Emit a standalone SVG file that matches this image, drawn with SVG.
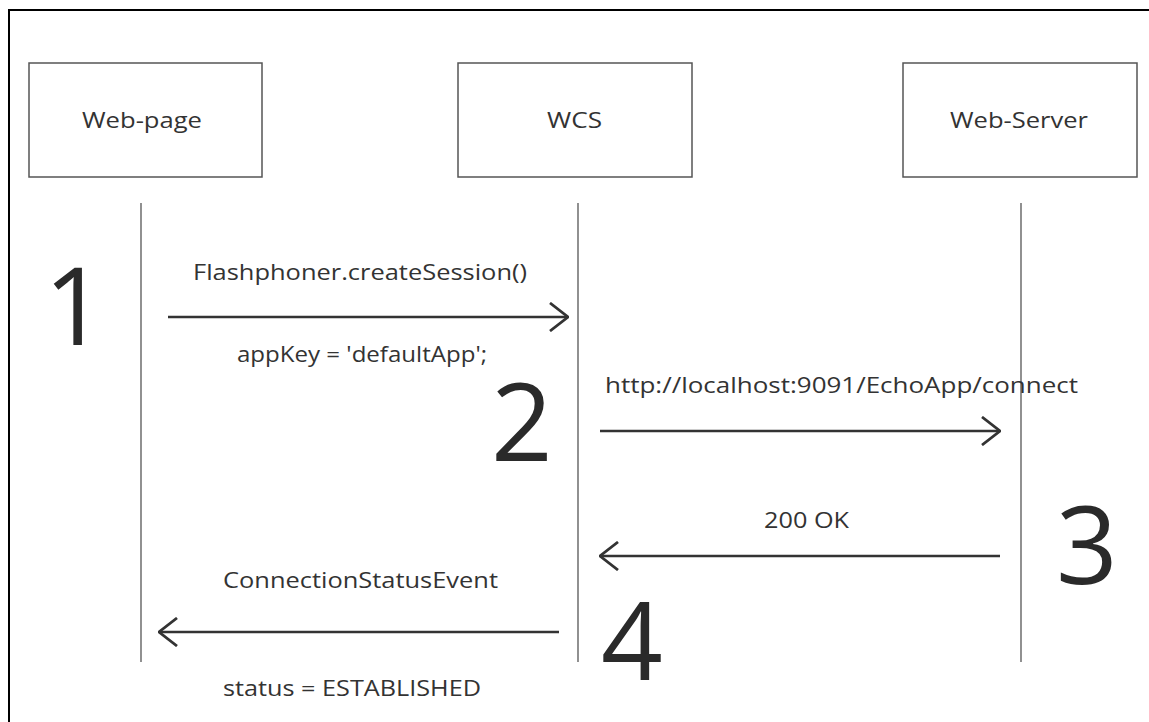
<svg xmlns="http://www.w3.org/2000/svg" width="1149" height="722" viewBox="0 0 1149 722">
<style>
.box{fill:#fff;stroke:#555;stroke-width:1.5}
.life{stroke:#555;stroke-width:1.3;fill:none}
.arr{stroke:#333;stroke-width:2.5;fill:none}
.lbl{font-family:"Open Sans","Noto Sans",sans-serif;font-size:22px;fill:#333}
.num{font-family:"Open Sans","Noto Sans",sans-serif;font-size:108px;fill:#2a2a2a}
.nm{font-family:"Open Sans","Noto Sans",sans-serif;font-size:22px;fill:#333}
</style>
<defs>
<marker id="head" viewBox="0 0 20 30" refX="19" refY="15" markerWidth="20" markerHeight="30" markerUnits="userSpaceOnUse" orient="auto">
<path d="M1,1 L19,15 L1,29" fill="none" stroke="#333" stroke-width="2.8"/>
</marker>
</defs>
<rect x="0" y="0" width="1149" height="722" fill="#fff"/>
<path d="M9,722 L9,10 L1149,10" fill="none" stroke="#000" stroke-width="2"/>
<g id="web-page">
<rect class="box" x="29" y="63" width="233" height="114"/>
<text class="nm" x="82" y="128" textLength="120" lengthAdjust="spacingAndGlyphs">Web-page</text>
</g>
<g id="wcs">
<rect class="box" x="458" y="63" width="234" height="114"/>
<text class="nm" x="547" y="128" textLength="55" lengthAdjust="spacingAndGlyphs">WCS</text>
</g>
<g id="web-server">
<rect class="box" x="903" y="63" width="234" height="114"/>
<text class="nm" x="950" y="128" textLength="138" lengthAdjust="spacingAndGlyphs">Web-Server</text>
</g>
<g id="lifelines">
<line class="life" x1="141" y1="203" x2="141" y2="662"/>
<line class="life" x1="578" y1="203" x2="578" y2="662"/>
<line class="life" x1="1021" y1="203" x2="1021" y2="662"/>
</g>
<g id="connectors">
<line class="arr" x1="168" y1="317" x2="568" y2="317" marker-end="url(#head)"/>
<line class="arr" x1="600" y1="431" x2="1000" y2="431" marker-end="url(#head)"/>
<line class="arr" x1="1000" y1="556" x2="600" y2="556" marker-end="url(#head)"/>
<line class="arr" x1="559" y1="632" x2="159" y2="632" marker-end="url(#head)"/>
</g>
<g id="labels">
<text class="lbl" x="193" y="280" textLength="334" lengthAdjust="spacingAndGlyphs">Flashphoner.createSession()</text>
<text class="lbl" x="237" y="362" textLength="250" lengthAdjust="spacingAndGlyphs">appKey = 'defaultApp';</text>
<text class="lbl" x="605" y="393" textLength="473" lengthAdjust="spacingAndGlyphs">http://localhost:9091/EchoApp/connect</text>
<text class="lbl" x="764" y="528" textLength="85" lengthAdjust="spacingAndGlyphs">200 OK</text>
<text class="lbl" x="223" y="588" textLength="275" lengthAdjust="spacingAndGlyphs">ConnectionStatusEvent</text>
<text class="lbl" x="223" y="696" textLength="258" lengthAdjust="spacingAndGlyphs">status = ESTABLISHED</text>
</g>
<g id="numbers">
<text class="num" x="44" y="345">1</text>
<text class="num" x="491" y="461">2</text>
<text class="num" x="1056" y="584">3</text>
<text class="num" x="601" y="680">4</text>
</g>
</svg>
